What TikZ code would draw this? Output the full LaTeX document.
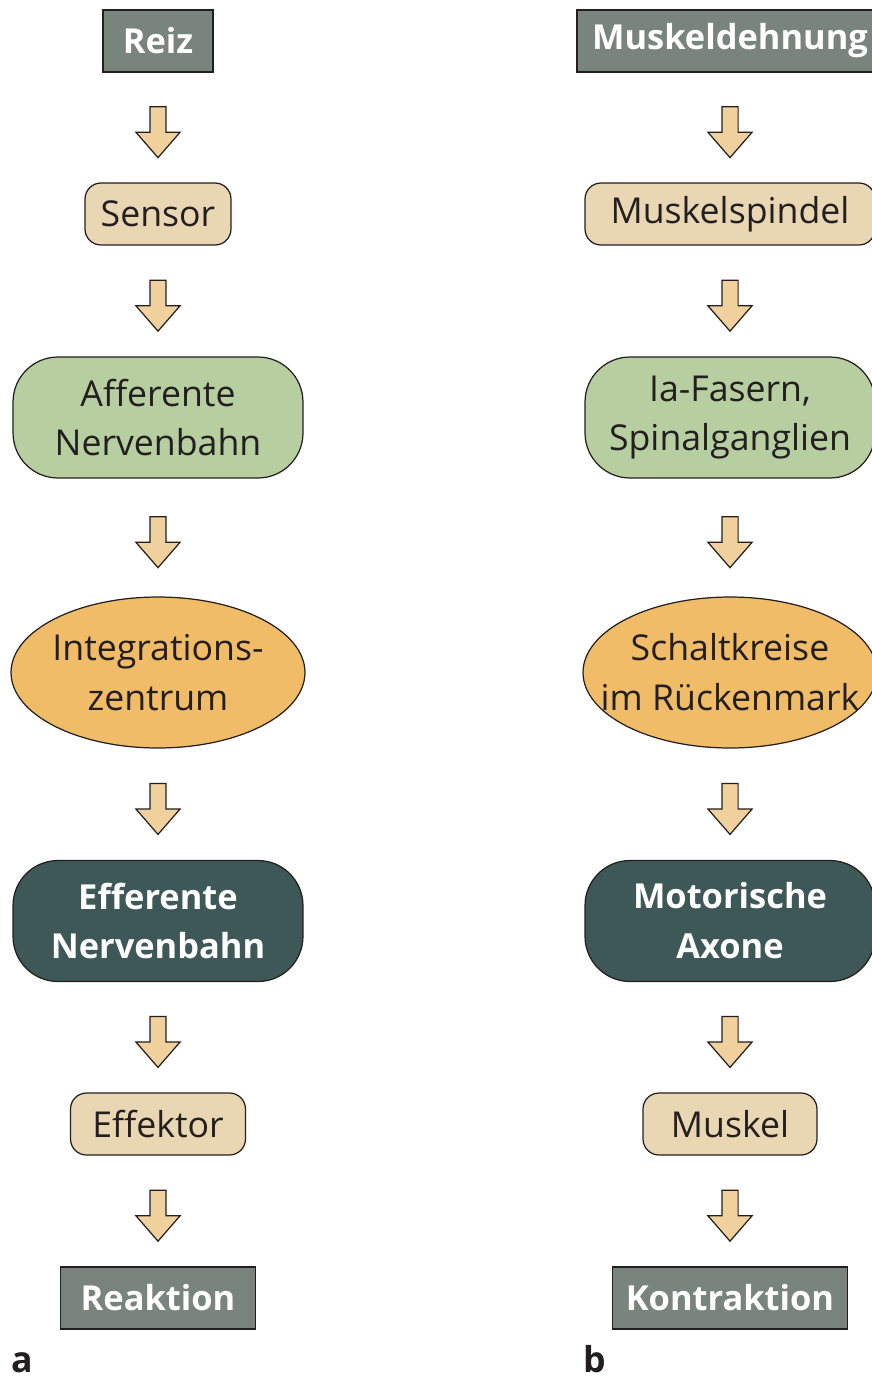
\documentclass[tikz,border=0pt]{standalone}
\usepackage{fontspec}
\setmainfont{Open Sans}
\usepackage{tikz}
\usetikzlibrary{shapes.geometric,shapes.arrows}

\definecolor{kastengrau}{HTML}{79847F}
\definecolor{dunkelgruen}{HTML}{3E5857}
\definecolor{beige}{HTML}{E9D7B3}
\definecolor{hellgruen}{HTML}{B6CEA0}
\definecolor{orange}{HTML}{F0BC68}
\definecolor{pfeilbeige}{HTML}{F0D09C}
\definecolor{schrift}{HTML}{231F20}

\tikzset{
  every node/.style={font=\fontsize{20.3}{28.4}\selectfont, text=schrift, align=center, draw=schrift, line width=0.7pt},
  ende/.style={rectangle, fill=kastengrau, text=white, font=\fontsize{19.6}{28.4}\selectfont\bfseries, minimum height=1.24cm, inner sep=0pt},
  organ/.style={rectangle, rounded corners=0.32cm, fill=beige, minimum height=1.24cm, inner sep=0pt},
  bahn/.style={rectangle, rounded corners=0.9cm, fill=hellgruen, minimum width=5.8cm, minimum height=2.42cm, inner sep=0pt},
  efferenz/.style={bahn, fill=dunkelgruen, text=white, font=\fontsize{19.6}{28.4}\selectfont\bfseries},
  zentrum/.style={ellipse, fill=orange, minimum width=5.88cm, minimum height=3.02cm, inner xsep=-0.8cm, inner ysep=0pt},
  pfeil/.style={single arrow, rotate=-90, fill=pfeilbeige, minimum height=1.02cm, minimum width=0.86cm,
    inner xsep=0pt, inner ysep=0.15cm, single arrow head extend=0.28cm, single arrow tip angle=82},
  teil/.style={draw=none, anchor=base, font=\fontsize{20.3}{28.4}\selectfont\bfseries, inner sep=0pt}
}

\begin{document}
\begin{tikzpicture}[x=0.02cm, y=-0.02cm]
  \useasboundingbox (0,0) rectangle (872,1380);
  \clip (0,0) rectangle (872,1380);

  % a: allgemeiner Reflexbogen
  \node[ende, minimum width=2.2cm] (reiz) at (158,41) {Reiz};
  \node[organ, minimum width=2.92cm] (sensor) at (158,214) {Sensor};
  \node[bahn] (afferent) at (158,417.5) {Afferente\\Nervenbahn};
  \node[zentrum] (integration) at (158,672.5) {Integrations-\\zentrum};
  \node[efferenz] (efferent) at (158,921) {Efferente\\Nervenbahn};
  \node[organ, minimum width=3.5cm] (effektor) at (158,1124) {Effektor};
  \node[ende, minimum width=3.9cm] (reaktion) at (158,1298) {Reaktion};
  \node[teil] (a) at (22,1372) {a};

  \path (reiz) -- node[pfeil] {} (sensor);
  \path (sensor) -- node[pfeil] {} (afferent);
  \path (afferent) -- node[pfeil] {} (integration);
  \path (integration) -- node[pfeil] {} (efferent);
  \path (efferent) -- node[pfeil] {} (effektor);
  \path (effektor) -- node[pfeil] {} (reaktion);

  % b: Dehnungsreflex
  \node[ende, minimum width=6.12cm] (dehnung) at (730,41) {Muskeldehnung};
  \node[organ, minimum width=5.8cm] (spindel) at (730,214) {Muskelspindel};
  \node[bahn] (fasern) at (730,417.5) {Ia-Fasern,\\Spinalganglien};
  \node[zentrum] (schaltkreise) at (730,672.5) {Schaltkreise\\im Rückenmark};
  \node[efferenz] (axone) at (730,921) {Motorische\\Axone};
  \node[organ, minimum width=3.48cm] (muskel) at (730,1124) {Muskel};
  \node[ende, minimum width=4.7cm] (kontraktion) at (730,1298) {Kontraktion};
  \node[teil] (b) at (595,1372) {b};

  \path (dehnung) -- node[pfeil] {} (spindel);
  \path (spindel) -- node[pfeil] {} (fasern);
  \path (fasern) -- node[pfeil] {} (schaltkreise);
  \path (schaltkreise) -- node[pfeil] {} (axone);
  \path (axone) -- node[pfeil] {} (muskel);
  \path (muskel) -- node[pfeil] {} (kontraktion);
\end{tikzpicture}
\end{document}
